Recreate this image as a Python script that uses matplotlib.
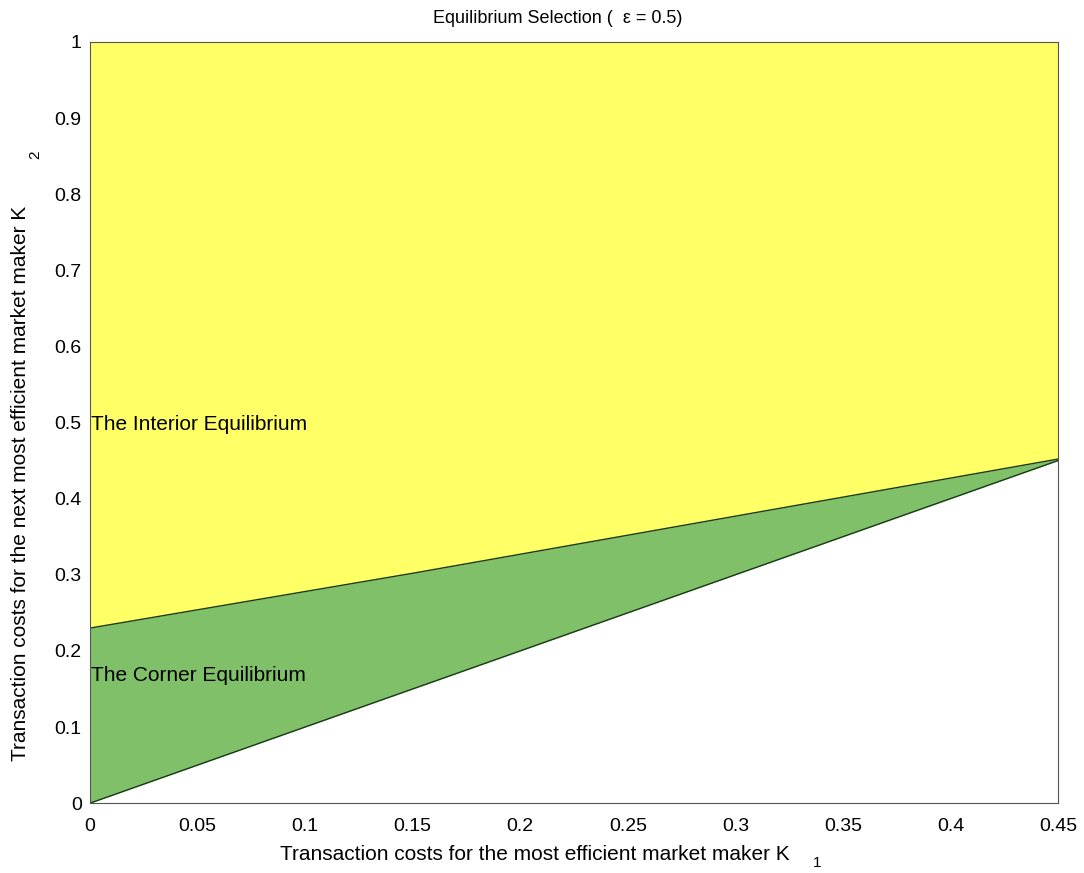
import numpy as np
import matplotlib.pyplot as plt

plt.rcParams['font.family'] = ['Liberation Sans', 'DejaVu Sans']
plt.rcParams['font.size'] = 14

# boundary between the two equilibria
k1 = [0.0, 0.05, 0.1, 0.15, 0.2, 0.25, 0.3, 0.35, 0.4, 0.45]
k2_bound = [0.23, 0.254, 0.278, 0.302, 0.327, 0.352, 0.377, 0.402, 0.427, 0.452]
k2_diag = k1  # K2 = K1 line

yellow = '#ffff66'
green = '#80c068'

fig = plt.figure(figsize=(10.84, 8.73), dpi=100)
ax = fig.add_axes([0.083, 0.080, 0.893, 0.872])

ax.fill_between(k1, k2_bound, 1.0, color=yellow, linewidth=0)
ax.fill_between(k1, k2_diag, k2_bound, color=green, linewidth=0)
ax.plot(k1, k2_bound, color='#1a3a1a', linewidth=1)
ax.plot(k1, k2_diag, color='#1a3a1a', linewidth=1)

ax.set_xlim(0, 0.45)
ax.set_ylim(0, 1)
ax.set_xticks([0, 0.05, 0.1, 0.15, 0.2, 0.25, 0.3, 0.35, 0.4, 0.45])
ax.set_xticklabels(['0', '0.05', '0.1', '0.15', '0.2', '0.25', '0.3', '0.35', '0.4', '0.45'])
ax.set_yticks(np.arange(0, 1.01, 0.1))
ax.set_yticklabels(['0', '0.1', '0.2', '0.3', '0.4', '0.5', '0.6', '0.7', '0.8', '0.9', '1'])
ax.tick_params(axis='y', length=0, pad=6)
ax.tick_params(axis='x', length=0, pad=11)
for s in ax.spines.values():
    s.set_color('#555555')

ax.text(0.0005, 0.497, 'The Interior Equilibrium', va='center', ha='left', fontsize=15)
ax.text(0.0005, 0.168, 'The Corner Equilibrium', va='center', ha='left', fontsize=15)

ax.text(0.483, 1.031, 'Equilibrium Selection (  \u03b5 = 0.5)', transform=ax.transAxes,
        ha='center', va='center', fontsize=13)

ax.set_xlabel('Transaction costs for the most efficient market maker K', fontsize=15)
ax.xaxis.set_label_coords(0.46, -0.068)
ax.xaxis.label.set_va('center')
ax.set_ylabel('Transaction costs for the next most efficient market maker K', fontsize=15)
ax.yaxis.set_label_coords(-0.072, 0.42)
ax.yaxis.label.set_va('center')

ax.text(0.751, -0.079, '1', transform=ax.transAxes, fontsize=11, ha='center', va='center')
ax.text(-0.057, 0.852, '2', transform=ax.transAxes, fontsize=11, rotation=90,
        ha='center', va='center')

plt.savefig('out.png', dpi=100)
